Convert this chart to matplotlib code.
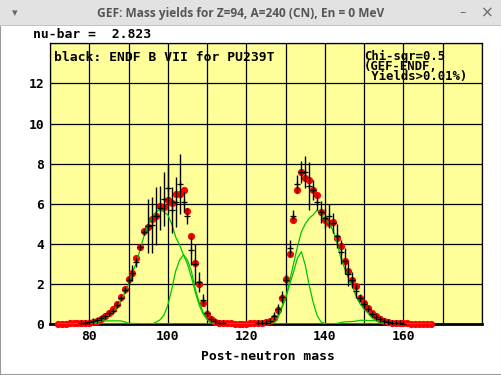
import matplotlib
matplotlib.use("Agg")
import matplotlib.pyplot as plt
from matplotlib.patches import Rectangle
import numpy as np

# ---------------- data ----------------
# GEF post-neutron mass yields (red dots)
gef_mass = list(range(72, 168))
gef_yield = [0.02, 0.03, 0.03, 0.04, 0.04, 0.05, 0.05, 0.06, 0.08, 0.12,   # 72-81
             0.18, 0.27, 0.43, 0.58, 0.77, 1.00, 1.38, 1.78, 2.25, 2.55,   # 82-91
             3.30, 3.85, 4.63, 4.87, 5.27, 5.42, 5.90, 5.86, 6.19, 6.05,   # 92-101
             6.47, 6.51, 6.70, 5.62, 4.42, 3.07, 2.02, 1.05, 0.50, 0.27,   # 102-111
             0.13, 0.07, 0.05, 0.04, 0.04, 0.03, 0.03, 0.03, 0.03, 0.04,   # 112-121
             0.04, 0.05, 0.06, 0.10, 0.15, 0.33, 0.70, 1.30, 2.24, 3.50,   # 122-131
             5.20, 6.70, 7.60, 7.30, 7.17, 6.70, 6.45, 5.58, 5.22, 5.07,   # 132-141
             5.10, 4.30, 3.88, 3.17, 2.67, 2.22, 1.90, 1.33, 1.06, 0.80,   # 142-151
             0.55, 0.40, 0.27, 0.18, 0.12, 0.08, 0.06, 0.05, 0.04, 0.04,   # 152-161
             0.03, 0.03, 0.03, 0.02, 0.02, 0.02]                           # 162-167

# ENDF/B-VII evaluation (black crosses with error bars)
endf_mass = list(range(78, 115)) + list(range(123, 161))
endf_yield = [0.04, 0.06, 0.09, 0.14, 0.20, 0.30, 0.42, 0.55, 0.68, 0.95,   # 78-87
              1.30, 1.72, 2.20, 2.55, 3.10, 3.85, 4.60, 4.90, 4.95, 5.40,   # 88-97
              5.80, 6.25, 6.80, 5.70, 6.10, 7.00, 6.10, 5.40, 3.70, 3.00,   # 98-107
              2.10, 1.20, 0.55, 0.28, 0.14, 0.08, 0.05,                     # 108-114
              0.04, 0.06, 0.08, 0.15, 0.40, 0.75, 1.35, 2.20, 3.80, 5.40,   # 123-132
              7.00, 7.60, 7.60, 6.90, 6.70, 6.10, 5.60, 5.30, 5.40, 5.05,   # 133-142
              4.40, 3.60, 3.15, 2.50, 2.20, 1.65, 1.30, 1.00, 0.75, 0.50,   # 143-152
              0.36, 0.25, 0.16, 0.11, 0.07, 0.05, 0.04, 0.03]               # 153-160
endf_err = [0.01, 0.01, 0.02, 0.03, 0.04, 0.05, 0.06, 0.08, 0.12, 0.15,
            0.10, 0.15, 0.20, 0.40, 0.25, 0.15, 0.15, 1.35, 1.40, 1.45,
            1.10, 1.35, 1.20, 1.15, 1.25, 1.50, 0.50, 0.40, 0.75, 1.00,
            0.50, 0.30, 0.15, 0.05, 0.03, 0.02, 0.01,
            0.01, 0.02, 0.03, 0.05, 0.20, 0.25, 0.30, 0.30, 0.40, 0.30,
            0.45, 0.55, 0.80, 1.20, 0.50, 0.40, 0.55, 0.50, 0.60, 0.50,
            0.60, 0.60, 0.65, 0.60, 0.40, 0.35, 0.20, 0.20, 0.10, 0.08,
            0.05, 0.04, 0.03, 0.02, 0.02, 0.01, 0.01, 0.01]

# fission-channel components (green curves), on mass grid 72-167
comp_mass = list(range(72, 168))
_z = lambda n: [0.0] * n
s2_light = (_z(8) +
            [0.05, 0.08, 0.12, 0.20, 0.30, 0.45, 0.62, 0.85, 1.15, 1.55,   # 80-89
             2.00, 2.55, 3.10, 3.75, 4.45, 4.95, 5.35, 5.60, 5.72, 5.60,   # 90-99
             5.45, 5.00, 4.35, 3.95, 3.45, 3.00, 2.35, 1.60, 0.95, 0.50,   # 100-109
             0.25, 0.08, 0.03] + _z(55))                                    # 110-112
s1_light = (_z(24) +
            [0.02, 0.10, 0.22, 0.45, 0.95, 1.75, 2.65, 3.20, 3.47, 3.20,   # 96-105
             2.65, 1.75, 1.10, 0.60, 0.25, 0.08, 0.02] + _z(55))           # 106-112
s3_light = (_z(10) +
            [0.08, 0.15, 0.17, 0.17, 0.17, 0.17, 0.17, 0.12, 0.05, 0.04,   # 82-91
             0.04, 0.03, 0.03, 0.03, 0.03, 0.02] + _z(70))                 # 92-97
s2_heavy = (_z(54) +
            [0.10, 0.28, 0.45, 0.85, 1.30, 2.13, 3.00, 3.85, 4.60, 5.00,   # 126-135
             5.28, 5.45, 5.68, 5.50, 5.20, 5.05, 4.70, 4.15, 3.35, 2.80,   # 136-145
             2.30, 1.90, 1.38, 1.00, 0.75, 0.55, 0.32, 0.18, 0.08, 0.03]   # 146-155
            + _z(12))
s1_heavy = (_z(55) +
            [0.05, 0.30, 0.78, 1.30, 1.97, 2.60, 3.30, 3.62, 2.95, 1.95,   # 127-136
             1.10, 0.45, 0.12, 0.03] + _z(27))                             # 137-140
s3_heavy = (_z(68) +
            [0.02, 0.03, 0.03, 0.04, 0.08, 0.12, 0.13, 0.14, 0.16, 0.20,   # 140-149
             0.20, 0.19, 0.18, 0.18, 0.15, 0.08, 0.03, 0.0] + _z(10))      # 150-157

x_ticks = list(range(70, 181, 10))
x_ticklabels = ["" if (t % 20 or t == 180) else str(t) for t in x_ticks]
y_ticks = list(range(0, 15, 2))
y_ticklabels = [str(t) if t < 14 else "" for t in y_ticks]

window_title = "GEF: Mass yields for Z=94, A=240 (CN), En = 0 MeV"
nubar_text = "nu-bar =  2.823"
endf_label = "black: ENDF B VII for PU239T"
chi_lines = ["Chi-sqr=0.5", "(GEF-ENDF,", " Yields>0.01%)"]
xlabel = "Post-neutron mass"

# ---------------- figure ----------------
W, H = 502, 375
fig = plt.figure(figsize=(W / 100, H / 100), dpi=100)
fig.patch.set_facecolor("white")

def fx(px):
    return px / W

def fy(py):
    return 1 - py / H

mono = "DejaVu Sans Mono"
FS = 9.4

# window frame and title bar (behind the axes)
fig.patches.append(Rectangle((0, 0), 1, 1, transform=fig.transFigure,
                             facecolor="white", edgecolor="#9a9a9a", lw=1.5,
                             zorder=-10))
fig.patches.append(Rectangle((fx(0), fy(25)), 1, 25 / H, transform=fig.transFigure,
                             facecolor="#e2e2e2", edgecolor="none", zorder=-9))
fig.patches.append(Rectangle((fx(0), fy(25.5)), 1, 0.8 / H, transform=fig.transFigure,
                             facecolor="#c4c4c4", edgecolor="none", zorder=-8))
fig.text(fx(241), fy(13), window_title, ha="center", va="center",
         fontsize=8.6, fontweight="bold", color="#555555", family="Open Sans")
fig.text(fx(15), fy(13), "▾", ha="center", va="center", fontsize=8,
         color="#666666", family="DejaVu Sans")
fig.text(fx(463), fy(13), "–", ha="center", va="center", fontsize=9,
         color="#666666", family="DejaVu Sans")
fig.text(fx(487), fy(13), "×", ha="center", va="center", fontsize=11,
         color="#666666", family="DejaVu Sans")

fig.text(fx(33), fy(35), nubar_text, ha="left", va="center", fontsize=FS,
         fontweight="bold", family=mono)

# axes
ax_left, ax_right, ax_top, ax_bot = 50, 482, 43.3, 324.3
ax = fig.add_axes([fx(ax_left), fy(ax_bot), (ax_right - ax_left) / W,
                   (ax_bot - ax_top) / H])
ax.set_facecolor("#ffff99")
ax.set_xlim(70, 180)
ax.set_ylim(0, 14)
ax.set_xticks(x_ticks)
ax.set_xticklabels(x_ticklabels)
ax.set_yticks(y_ticks)
ax.set_yticklabels(y_ticklabels)
ax.tick_params(length=0, pad=4)
for lab in ax.get_xticklabels() + ax.get_yticklabels():
    lab.set_family(mono)
    lab.set_fontweight("bold")
    lab.set_fontsize(FS)
ax.tick_params(axis="x", pad=4)
ax.grid(True, color="black", lw=0.9)
ax.set_axisbelow(True)
for s in ax.spines.values():
    s.set_color("black")
    s.set_linewidth(0.9)
ax.spines["bottom"].set_linewidth(2.0)

ax.plot(gef_mass, gef_yield, "o", color="#ff0000", ms=5.2, mec="#ff0000",
        mew=0, zorder=3, clip_on=False)
for comp in (s3_light, s2_light, s1_light, s2_heavy, s1_heavy, s3_heavy):
    ax.plot(comp_mass, comp, "-", color="#00c400", lw=0.9, zorder=4)
ax.errorbar(endf_mass, endf_yield, yerr=endf_err, fmt="+", color="black",
            ms=4, mew=0.9, elinewidth=1.0, capsize=0, zorder=5)

ax.text(4 / 432, 1 - 14 / 281, endf_label, transform=ax.transAxes,
        ha="left", va="center", fontsize=FS, fontweight="bold", family=mono)
ax.text((364 - ax_left) / 432, 1 - 7 / 281, "\n".join(chi_lines),
        transform=ax.transAxes, ha="left", va="top", fontsize=8.8,
        fontweight="bold", family=mono, linespacing=0.68)

fig.text(fx(268), fy(357), xlabel, ha="center", va="center", fontsize=FS,
         fontweight="bold", family=mono)

fig.savefig("out.png", dpi=100)
